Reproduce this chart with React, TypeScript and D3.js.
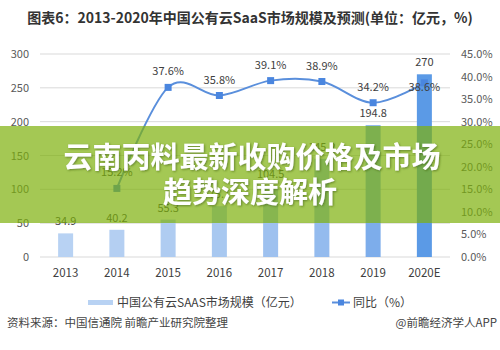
import * as d3 from 'd3'

const years = ['2013', '2014', '2015', '2016', '2017', '2018', '2019', '2020E']
const marketSize = [34.9, 40.2, 55.3, 75.1, 104.5, 145.2, 194.8, 270]
const growth: (number | null)[] = [null, 15.2, 37.6, 35.8, 39.1, 38.9, 34.2, 38.6]
const leftTicks = [0, 50, 100, 150, 200, 250, 300]
const rightTicks = [0, 5, 10, 15, 20, 25, 30, 35, 40, 45]

const barColors = ['#b8d2f3', '#b4cff2', '#afccf1', '#a8c8f0', '#9ec1ef', '#94bbee', '#7dadeb', '#5b9ae6']
const lineColor = '#5a8fdc'
const markerColor = '#4a86df'
const textColor = '#404040'
const font = '"Noto Sans CJK SC", "Noto Sans", sans-serif'

export default function App() {
  const margin = { left: 40, right: 450, top: 54, bottom: 257 }

  const x = d3.scaleBand<string>().domain(years).range([margin.left, margin.right]).padding(0)
  const yLeft = d3.scaleLinear().domain([0, 300]).range([margin.bottom, margin.top])
  const yRight = d3.scaleLinear().domain([0, 45]).range([margin.bottom, margin.top])
  const cx = (d: string) => (x(d) ?? 0) + x.bandwidth() / 2
  const barW = 15

  const linePts = years
    .map((yr, i) => ({ yr, v: growth[i] }))
    .filter((d) => d.v !== null) as { yr: string; v: number }[]

  const line = d3.line<{ yr: string; v: number }>()
    .x((d) => cx(d.yr))
    .y((d) => yRight(d.v))
    .curve(d3.curveCardinal.tension(0))

  return (
    <div style={{ position: 'fixed', left: 0, top: 0 }}>
      <svg width={500} height={350} style={{ display: 'block', background: '#fff' }} fontFamily={font}>
        <defs>
          <filter id="shadow" x="-10%" y="-30%" width="120%" height="160%">
            <feDropShadow dx="1" dy="1" stdDeviation="1.2" floodColor="#3a5a10" floodOpacity="0.6" />
          </filter>
        </defs>

        <text x={250} y={23} textAnchor="middle" fontSize={14} fontWeight="bold" fill="#333">
          图表6：2013-2020年中国公有云SaaS市场规模及预测(单位：亿元，%)
        </text>

        {leftTicks.map((t) => (
          <g key={t}>
            <line x1={margin.left} x2={margin.right} y1={yLeft(t)} y2={yLeft(t)} stroke="#d9d9d9" strokeWidth={1} />
            <text x={29} y={yLeft(t) + 4} textAnchor="end" fontSize={11} fill="#595959">{t}</text>
          </g>
        ))}
        {rightTicks.map((t) => (
          <text key={t} x={461} y={yRight(t) + 4} fontSize={11} fill="#595959">{t.toFixed(1)}%</text>
        ))}

        {years.map((yr, i) => (
          <g key={yr}>
            <rect x={cx(yr) - barW / 2} y={yLeft(marketSize[i])} width={barW}
              height={yLeft(0) - yLeft(marketSize[i])} fill={barColors[i]} />
            <text x={cx(yr)} y={yLeft(marketSize[i]) - 8} textAnchor="middle" fontSize={11} fill={textColor}>
              {marketSize[i]}
            </text>
            <text x={cx(yr)} y={277} textAnchor="middle" fontSize={11.5} fill={textColor}>{yr}</text>
          </g>
        ))}

        <path d={line(linePts) ?? ''} fill="none" stroke={lineColor} strokeWidth={2} />
        {linePts.map((d, i) => (
          <g key={d.yr}>
            <rect x={cx(d.yr) - 3.5} y={yRight(d.v) - 3.5} width={7} height={7} fill={markerColor} />
            <text x={cx(d.yr)} y={i === linePts.length - 1 ? yRight(d.v) + 8 : yRight(d.v) - 12}
              textAnchor="middle" fontSize={11} fill={textColor}>
              {d.v.toFixed(1)}%
            </text>
          </g>
        ))}

        <rect x={88} y={300} width={25} height={5} fill="#b8d2f3" />
        <text x={117} y={307} fontSize={12} fill={textColor}>中国公有云SAAS市场规模（亿元）</text>
        <line x1={332} x2={350} y1={302.5} y2={302.5} stroke={lineColor} strokeWidth={2} />
        <rect x={338} y={299.5} width={6} height={6} fill={markerColor} />
        <text x={353} y={307} fontSize={12} fill={textColor}>同比（%）</text>

        <text x={7} y={327} fontSize={11.5} fill="#444">资料来源：中国信通院 前瞻产业研究院整理</text>
        <text x={497} y={327} textAnchor="end" fontSize={11.5} fill="#444">@前瞻经济学人APP</text>

        <rect x={0} y={126} width={500} height={97} fill="rgb(126,177,11)" fillOpacity={0.7} />
        <g fill="#fff" fontSize={29} fontWeight="bold" textAnchor="middle" filter="url(#shadow)">
          <text x={252} y={168}>云南丙料最新收购价格及市场</text>
          <text x={250} y={203}>趋势深度解析</text>
        </g>
      </svg>
    </div>
  )
}
